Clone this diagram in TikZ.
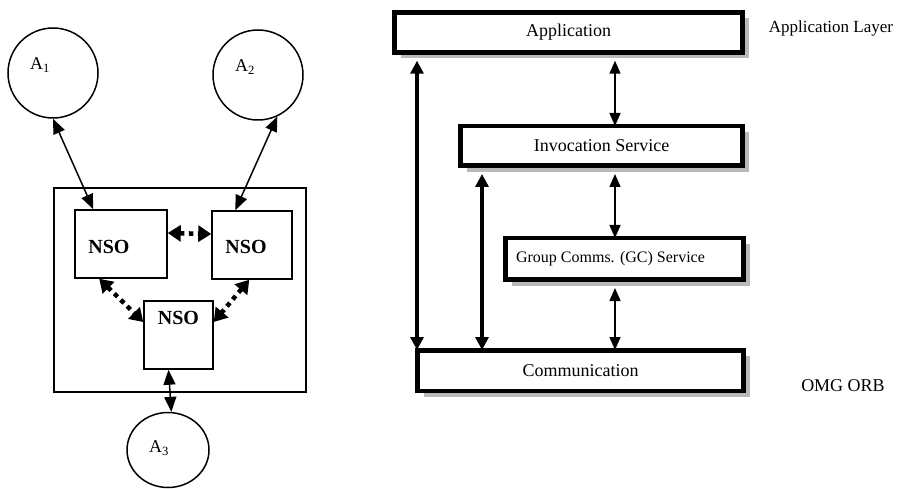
\documentclass[tikz,border=0pt]{standalone}
\usepackage{fontspec}
\setmainfont{Liberation Serif}
\usetikzlibrary{arrows.meta,shadows,shapes.geometric}
\tikzset{
  actor/.style={draw,circle,line width=1.5pt,minimum size=90pt,inner sep=0pt},
  nsobox/.style={draw,line width=1.5pt,inner sep=0pt},
  nsotext/.style={font=\fontsize{20}{22}\selectfont\bfseries},
  layer/.style={draw,line width=4.5pt,inner sep=0pt,fill=white,
    drop shadow={shadow xshift=6pt,shadow yshift=-6pt,fill=gray!55,opacity=1}},
  link/.style={{Triangle[length=15pt,width=12pt]}-{Triangle[length=15pt,width=12pt]},line width=1.5pt},
  nsolink/.style={{Triangle[length=13pt,width=16pt]}-{Triangle[length=13pt,width=16pt]},
    line width=4.5pt,dash pattern=on 4.5pt off 4.5pt},
  thin link/.style={{Triangle[length=13pt,width=11pt]}-{Triangle[length=13pt,width=11pt]},
    line width=1.5pt,shorten <=6pt,shorten >=-2pt},
  thick link/.style={{Triangle[length=13pt,width=13pt]}-{Triangle[length=13pt,width=13pt]},
    line width=3.5pt,shorten <=6pt,shorten >=-2pt}
}
\begin{document}
\begin{tikzpicture}[x=1pt,y=-1pt,font=\fontsize{18}{21}\selectfont]
  \useasboundingbox (0,0) rectangle (916,489);
  % applications and name server objects
  \node[actor,label={[xshift=-13pt,yshift=8pt]center:A\textsubscript{1}}] (a1) at (53,73) {};
  \node[actor,label={[xshift=-13pt,yshift=8pt]center:A\textsubscript{2}}] (a2) at (258,75) {};
  \node[actor,ellipse,minimum width=82pt,minimum height=75pt,
        label={[xshift=-9pt,yshift=2pt]center:A\textsubscript{3}}] (a3) at (168,450) {};
  \node[nsobox,minimum width=252pt,minimum height=204pt] (grp) at (180,290) {};
  \node[nsobox,minimum width=92pt,minimum height=68pt,
        label={[nsotext,xshift=-12pt,yshift=-3pt]center:NSO}] (n1) at (121,244) {};
  \node[nsobox,minimum width=80pt,minimum height=68pt,
        label={[nsotext,xshift=-6pt,yshift=-2pt]center:NSO}] (n2) at (252,245) {};
  \node[nsobox,minimum width=69pt,minimum height=68pt,
        label={[nsotext,yshift=17pt]center:NSO}] (n3) at (178.5,335) {};
  \draw[link] (a1.south) -- ([xshift=19pt]n1.north west);
  \draw[link] (a2.-65) -- ([xshift=24pt]n2.north west);
  \draw[nsolink] ([yshift=11pt]n1.east) -- ([yshift=11pt]n2.west);
  \draw[nsolink] ([xshift=25pt]n1.south west) -- ([yshift=13pt]n3.west);
  \draw[nsolink] ([xshift=38pt]n2.south west) -- ([yshift=13pt]n3.east);
  \draw[link] ([xshift=-10pt]n3.south) -- (a3.85);
  % layers
  \node[layer,minimum width=348pt,minimum height=40pt] (app) at (568.5,32.5) {Application};
  \node[layer,minimum width=282pt,minimum height=39.5pt] (inv) at (601.5,146) {Invocation Service};
  \node[layer,minimum width=238pt,minimum height=41.5pt,
        label={[xshift=-14pt,font=\fontsize{16}{19}\selectfont]center:Group Comms. (GC) Service}] (gc) at (624.5,259) {};
  \node[layer,minimum width=326pt,minimum height=40.5pt] (com) at (580.5,370.5) {Communication};
  \node[font=\fontsize{17}{20}\selectfont] (al) at (831,28) {Application Layer};
  \node (orb) at (843,386) {OMG ORB};
  \coordinate (mid) at (615,0);
  \coordinate (lft) at (417,0);
  \coordinate (inr) at (482,0);
  \draw[thin link] (app.south -| mid) -- (inv.north -| mid);
  \draw[thin link] (inv.south -| mid) -- (gc.north -| mid);
  \draw[thin link] (gc.south -| mid) -- (com.north -| mid);
  \draw[thick link] (app.south -| lft) -- (com.north -| lft);
  \draw[thick link] (inv.south -| inr) -- (com.north -| inr);
\end{tikzpicture}
\end{document}
